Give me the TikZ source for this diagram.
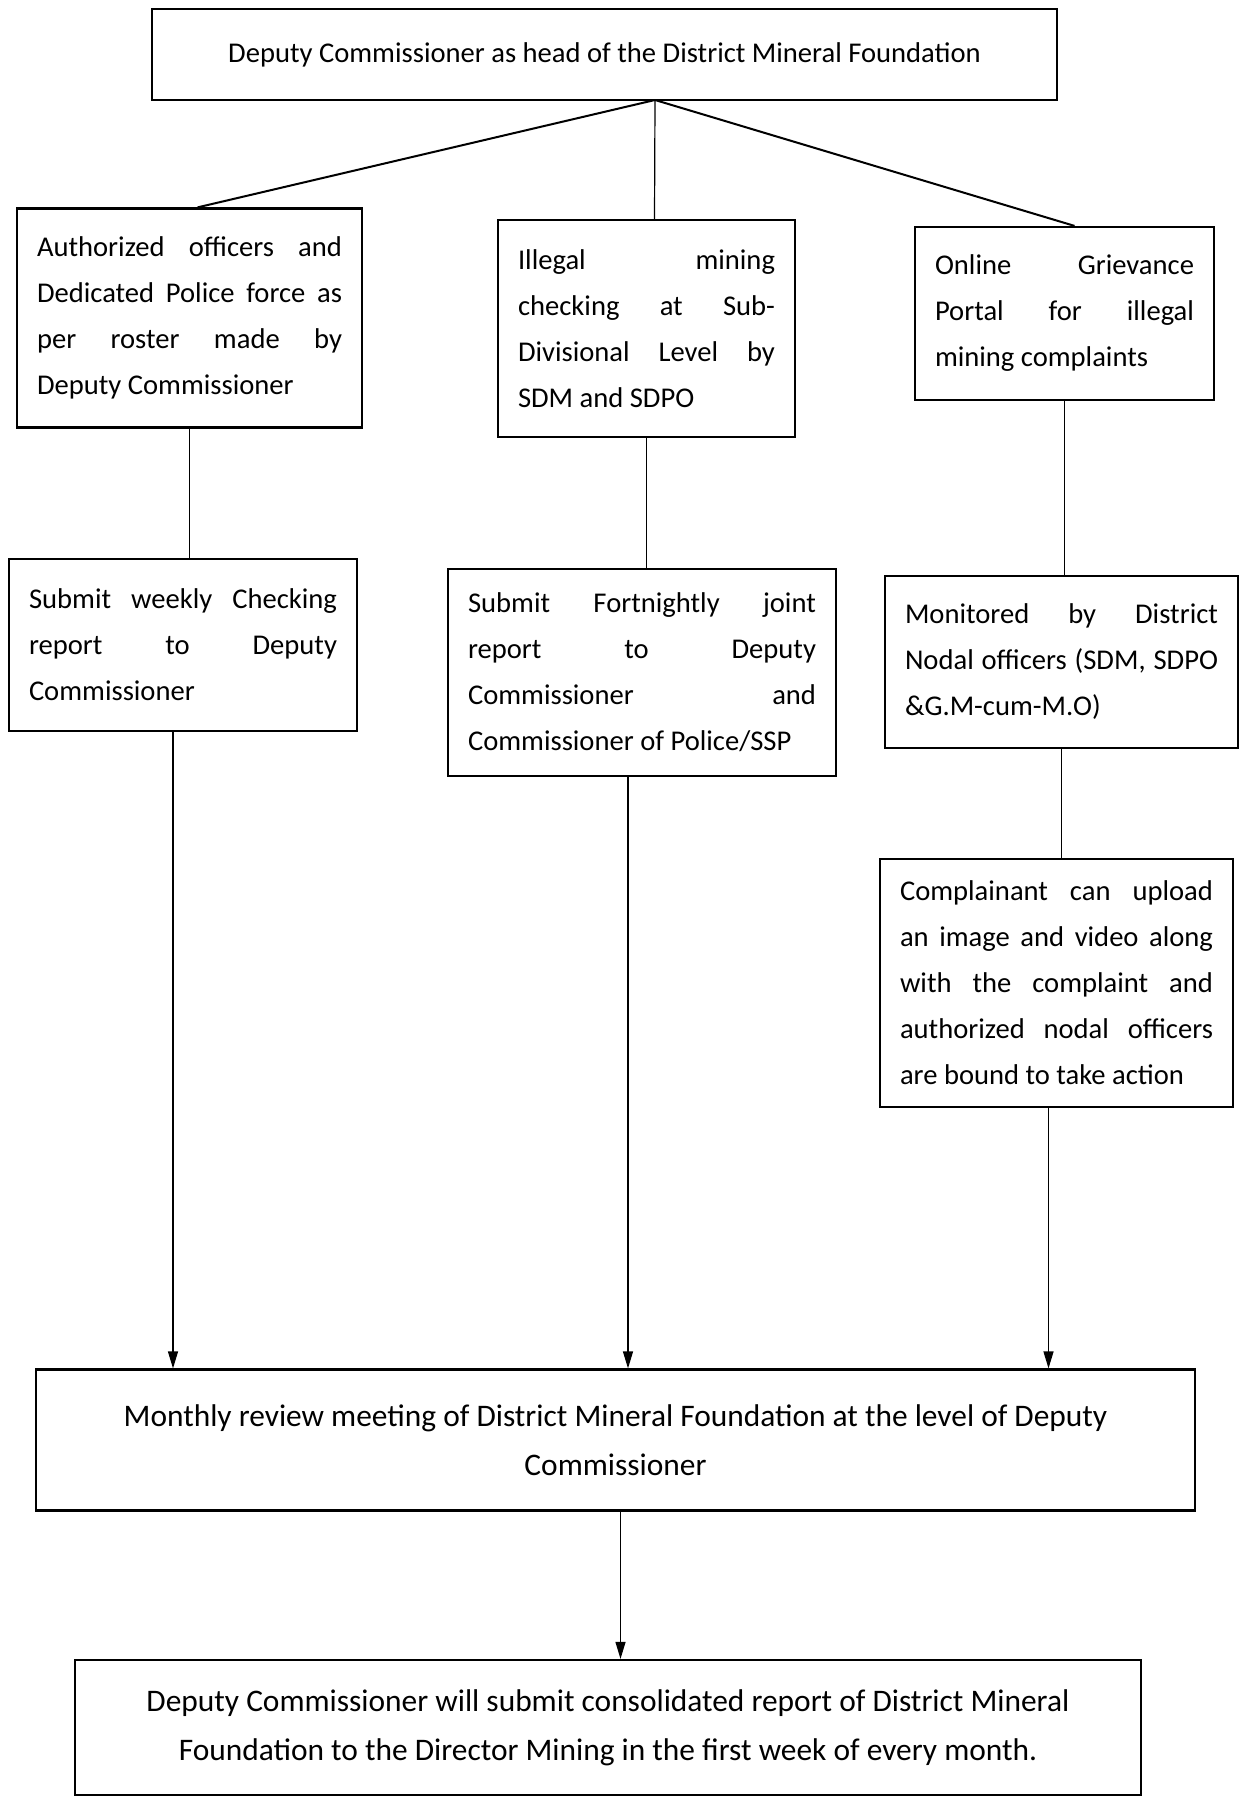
\documentclass[tikz,border=0pt]{standalone}
\usepackage{fontspec}
\setmainfont{Carlito}
\usetikzlibrary{arrows.meta}
\hyphenpenalty=10000
\tolerance=9999
\begin{document}
\begin{tikzpicture}[x=0.5pt,y=-0.5pt,
  box/.style={draw, line width=1.1pt, inner xsep=10pt, inner ysep=3pt,
    font=\fontsize{14.3}{23}\selectfont, align=justify},
  cbox/.style={draw, line width=1.1pt, inner xsep=10pt, inner ysep=3pt,
    font=\fontsize{14.3}{25}\selectfont, align=center},
  bigbox/.style={cbox, font=\fontsize{15.7}{24.5}\selectfont},
  fan/.style={line width=1pt},
  link/.style={line width=0.6pt},
  arr/.style={line width=0.6pt, -{Triangle[length=8.5pt,width=5pt]}}]
\path[fill=white,use as bounding box] (0,0) rectangle (1241,1803);

\node[cbox, minimum width=452.5pt, minimum height=45.5pt] (top) at (604.5,54.5)
  {Deputy Commissioner as head of the District Mineral Foundation};

\node[box, text width=152.5pt, minimum height=109.5pt] (A) at (189.5,318)
  {Authorized officers and\linebreak Dedicated Police force as\linebreak per roster made by\linebreak Deputy Commissioner};
\node[box, text width=128.5pt, minimum height=108.5pt] (B) at (646.5,328.5)
  {Illegal mining\linebreak checking at Sub-\linebreak Divisional Level by\linebreak SDM and SDPO};
\node[box, text width=129.5pt, minimum height=86.5pt] (C) at (1064.5,313.5)
  {Online Grievance\linebreak Portal for illegal\linebreak mining complaints};

\node[box, text width=154pt, minimum height=86pt] (D) at (183,645)
  {Submit weekly Checking\linebreak report to Deputy\linebreak Commissioner};
\node[box, text width=174pt, minimum height=103.5pt] (E) at (642,672.5)
  {Submit Fortnightly joint\linebreak report to Deputy\linebreak Commissioner and\linebreak Commissioner of Police/SSP};
\node[box, text width=156.5pt, minimum height=86pt] (F) at (1061.5,662)
  {Monitored by District\linebreak Nodal officers (SDM, SDPO\linebreak \&G.M-cum-M.O)};
\node[box, text width=156.5pt, minimum height=124pt] (G) at (1056.5,983)
  {Complainant can upload\linebreak an image and video along\linebreak with the complaint and\linebreak authorized nodal officers\linebreak are bound to take action};

\node[bigbox, minimum width=579.5pt, minimum height=70.5pt] (H) at (615.5,1440)
  {Monthly review meeting of District Mineral Foundation at the level of Deputy\\ Commissioner};
\node[bigbox, minimum width=533pt, minimum height=67.5pt] (I) at (608,1727.5)
  {Deputy Commissioner will submit consolidated report of District Mineral\\ Foundation to the Director Mining in the first week of every month.};

\coordinate (apex) at (655,100);
\draw[fan] (apex) -- ([xshift=4pt]A.north);
\draw[link] (apex) -- ([xshift=4pt]B.north);
\draw[fan] (apex) -- ([xshift=5pt]C.north);

\draw[link] (A.south) -- (A.south |- D.north);
\draw[link] (B.south) -- (B.south |- E.north);
\draw[link] (C.south) -- (C.south |- F.north);
\draw[link] (F.south) -- (F.south |- G.north);

\draw[arr] ([xshift=-5pt]D.south) -- ([xshift=-5pt]D.south |- H.north);
\draw[arr] ([xshift=-7pt]E.south) -- ([xshift=-7pt]E.south |- H.north);
\draw[arr] ([xshift=-4pt]G.south) -- ([xshift=-4pt]G.south |- H.north);
\draw[arr] ([xshift=2.5pt]H.south) -- ([xshift=2.5pt]H.south |- I.north);
\end{tikzpicture}
\end{document}
